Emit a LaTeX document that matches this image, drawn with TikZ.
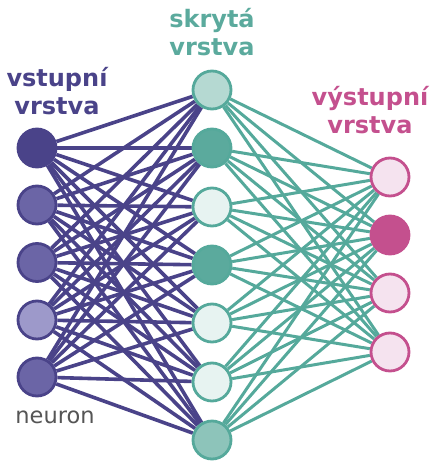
\documentclass[tikz,border=0pt]{standalone}
\usepackage{fontspec}
\setmainfont{DejaVu Sans}
\usetikzlibrary{backgrounds}
\definecolor{indark}{HTML}{4A4389}
\definecolor{inmid}{HTML}{6B65A6}
\definecolor{inlight}{HTML}{9D99CA}
\definecolor{hidline}{HTML}{55A99B}
\definecolor{hiddark}{HTML}{5BAA9D}
\definecolor{hidpale}{HTML}{E7F3F1}
\definecolor{hidtop}{HTML}{B5D9D2}
\definecolor{hidlow}{HTML}{8DC4BA}
\definecolor{outline}{HTML}{C4508E}
\definecolor{outpale}{HTML}{F5E3EF}
\definecolor{neurontext}{HTML}{555555}
\tikzset{
  neuronbase/.style={circle, minimum size=38pt, inner sep=0pt, line width=2.8pt},
  inneuron/.style={neuronbase, draw=indark, fill=#1},
  hidneuron/.style={neuronbase, draw=hidline, fill=#1},
  outneuron/.style={neuronbase, draw=outline, fill=#1},
  inlink/.style={draw=indark, line width=3.6pt},
  hidlink/.style={draw=hidline, line width=3pt},
  layerlabel/.style={font=\fontsize{24}{27.5}\selectfont\bfseries, align=center, inner sep=0pt}
}
\begin{document}
\begin{tikzpicture}[x=1pt,y=-1pt]
\useasboundingbox (0,0) rectangle (432,463);

% input layer
\node[inneuron=indark] (i1) at (37,148) {};
\node[inneuron=inmid] (i2) at (37,205) {};
\node[inneuron=inmid] (i3) at (37,262.5) {};
\node[inneuron=inlight] (i4) at (37,320) {};
\node[inneuron=inmid] (i5) at (37,377) {};

% hidden layer
\node[hidneuron=hidtop] (h1) at (212,90) {};
\node[hidneuron=hiddark] (h2) at (212,148) {};
\node[hidneuron=hidpale] (h3) at (212,207) {};
\node[hidneuron=hiddark] (h4) at (212,265) {};
\node[hidneuron=hidpale] (h5) at (212,323) {};
\node[hidneuron=hidpale] (h6) at (212,382) {};
\node[hidneuron=hidlow] (h7) at (212,440) {};

% output layer
\node[outneuron=outpale] (o1) at (390,177) {};
\node[outneuron=outline] (o2) at (390,235) {};
\node[outneuron=outpale] (o3) at (390,293) {};
\node[outneuron=outpale] (o4) at (390,352) {};

% connections, fully connected between consecutive layers
\begin{scope}[on background layer]
  \foreach \a in {1,...,5}
    \foreach \b in {1,...,7}
      \draw[inlink] (i\a) -- (h\b);
  \foreach \a in {1,...,7}
    \foreach \b in {1,...,4}
      \draw[hidlink] (h\a) -- (o\b);
\end{scope}

% labels (anchor base sits on the last line)
\node[layerlabel, text=indark, anchor=base] (lin) at (57,114) {vstupní\\vrstva};
\node[layerlabel, text=hiddark, anchor=base] (lhid) at (212,55) {skrytá\\vrstva};
\node[layerlabel, text=outline, anchor=base] (lout) at (370,133) {výstupní\\vrstva};
\node[font=\fontsize{22.5}{26}\selectfont, text=neurontext, anchor=base, inner sep=0pt] (lneuron) at (55,423) {neuron};
\end{tikzpicture}
\end{document}
